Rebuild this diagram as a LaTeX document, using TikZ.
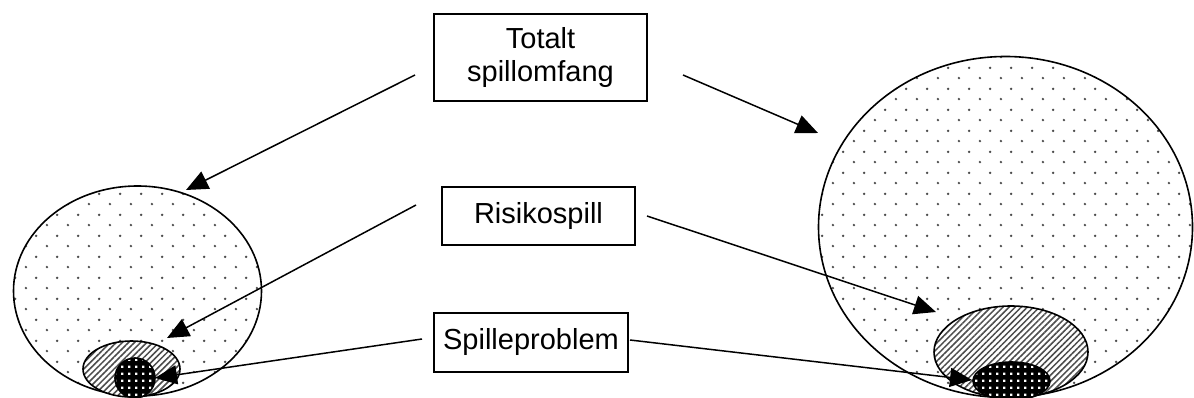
\documentclass[tikz,border=0pt]{standalone}
\usepackage{fontspec}
\setmainfont{Liberation Sans}
\usetikzlibrary{patterns.meta,arrows.meta}
\pgfdeclarepattern{name=sdots, type=uncolored,
  bottom left={\pgfpoint{0pt}{0pt}}, top right={\pgfpoint{20.7pt}{20.7pt}},
  tile size={\pgfpoint{20.7pt}{20.7pt}},
  code={\pgfpathcircle{\pgfpoint{5pt}{5pt}}{1.35pt}\pgfpathcircle{\pgfpoint{15.35pt}{15.35pt}}{1.35pt}\pgfusepath{fill}}}
\pgfdeclarepattern{name=wdots, type=uncolored,
  bottom left={\pgfpoint{0pt}{0pt}}, top right={\pgfpoint{7pt}{7pt}},
  tile size={\pgfpoint{7pt}{7pt}},
  code={\pgfpathrectangle{\pgfpoint{2.4pt}{2.4pt}}{\pgfpoint{2.4pt}{2.4pt}}\pgfusepath{fill}}}
\tikzset{
  lbl/.style={draw, line width=1.4pt, font=\fontsize{29}{33.5}\selectfont, align=center, inner sep=0pt},
  arr/.style={line width=1.5pt, -{Triangle[length=22pt,width=19pt]}},
  outer/.style={line width=1.6pt, pattern=sdots, pattern color=black!70},
  hatch/.style={line width=1.6pt, pattern={Lines[angle=45,distance=4.3pt,line width=1.5pt]}, pattern color=black!70},
  core/.style={line width=1.6pt, fill=black},
}
\begin{document}
\begin{tikzpicture}[x=1pt,y=-1pt]
\useasboundingbox (0,0) rectangle (1194,398);
\clip (0,0) rectangle (1194,398);
% left group
\draw[outer] (137.5,291) ellipse [x radius=124, y radius=105];
\fill[white] (131.5,369) ellipse [x radius=48.5, y radius=28];
\draw[hatch] (131.5,369) ellipse [x radius=48.5, y radius=28];
\draw[core] (135,378) circle [radius=20];
\fill[pattern=wdots, pattern color=white] (135,378) circle [radius=19];
% right group
\draw[outer] (1005.5,227) ellipse [x radius=187, y radius=170.5];
\fill[white] (1011,352) ellipse [x radius=77, y radius=46];
\draw[hatch] (1011,352) ellipse [x radius=77, y radius=46];
\draw[core] (1011.5,381) ellipse [x radius=38.5, y radius=19];
\fill[pattern=wdots, pattern color=white] (1011.5,381) ellipse [x radius=37.5, y radius=18];
% labels
\node[lbl, minimum width=213pt, minimum height=87pt] (tot) at (540.5,57.5) {Totalt\\spillomfang};
\node[lbl, minimum width=193pt, minimum height=58pt] (ris) at (538.5,216) {Risikospill};
\node[lbl, minimum width=194pt, minimum height=59pt] (spi) at (531,342.5) {Spilleproblem};
% arrow endpoints
\coordinate (totL) at (415,75);
\coordinate (totR) at (683,75);
\coordinate (risL) at (416,205);
\coordinate (risR) at (647,216);
\coordinate (spiL) at (422,339);
\coordinate (spiR) at (630,340);
\coordinate (bigL) at (186,190);
\coordinate (bigR) at (818,133);
\coordinate (midL) at (167,338);
\coordinate (midR) at (936,312);
\coordinate (smlL) at (155,378);
\coordinate (smlR) at (972,380);
\draw[arr] (totL) -- (bigL);
\draw[arr] (totR) -- (bigR);
\draw[arr] (risL) -- (midL);
\draw[arr] (risR) -- (midR);
\draw[arr] (spiL) -- (smlL);
\draw[arr] (spiR) -- (smlR);
\end{tikzpicture}
\end{document}
